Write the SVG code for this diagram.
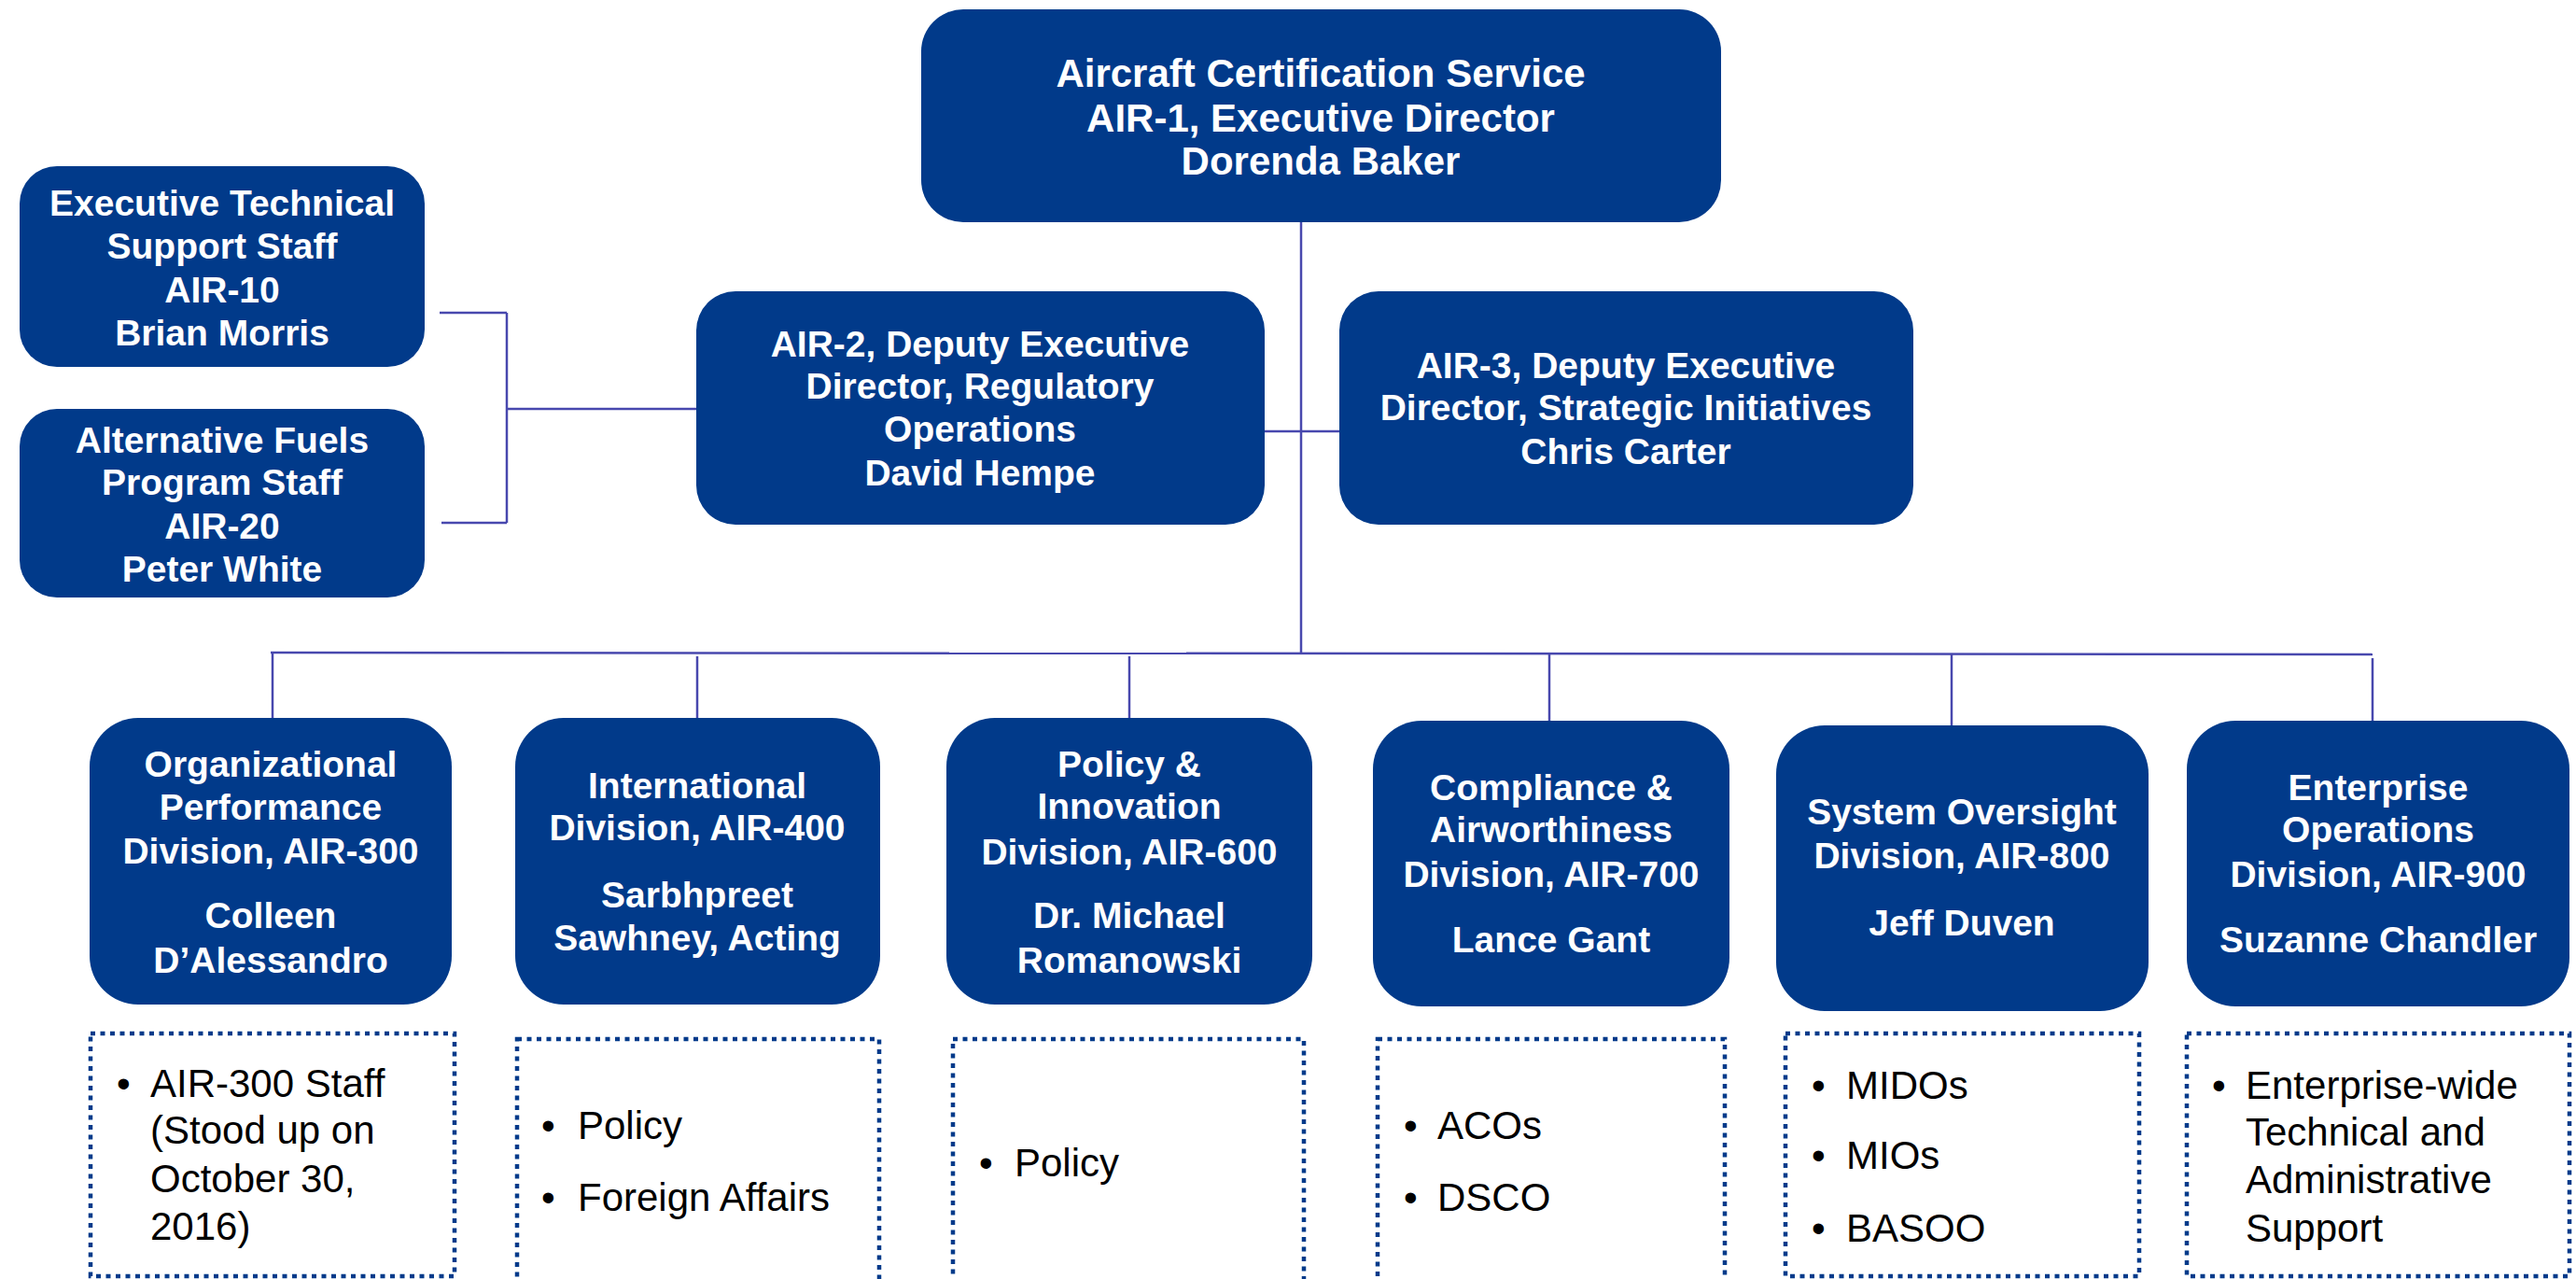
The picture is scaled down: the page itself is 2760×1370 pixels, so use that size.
<svg xmlns="http://www.w3.org/2000/svg" width="2760" height="1370" viewBox="0 0 2760 1370">
<style>
.box{fill:#013A8A}
.t{font-family:"Liberation Sans",Arial,sans-serif;font-weight:bold;fill:#fff;text-anchor:middle;font-size:39px}
.tt{font-size:42px}
.dot{fill:none;stroke:#013A8A;stroke-width:4.5;stroke-dasharray:5 5.5}
.b{font-family:"Liberation Sans",Arial,sans-serif;fill:#000;font-size:42px}
.conn line{stroke:#4848AE;stroke-width:2.5}
</style>
<rect width="2760" height="1370" fill="#fff"/>
<g class="conn" id="connectors">
<line x1="1394" y1="238" x2="1394" y2="700"/>
<line x1="1355" y1="462" x2="1436" y2="462"/>
<line x1="471" y1="335" x2="543" y2="335"/>
<line x1="543" y1="335" x2="543" y2="560"/>
<line x1="473" y1="560" x2="543" y2="560"/>
<line x1="543" y1="438" x2="747" y2="438"/>
<line x1="290" y1="699" x2="2542" y2="701"/>
<line x1="292" y1="699" x2="292" y2="769"/>
<line x1="747" y1="703" x2="747" y2="769"/>
<line x1="1210" y1="703" x2="1210" y2="769"/>
<line x1="1660" y1="699" x2="1660" y2="772"/>
<line x1="2091" y1="701" x2="2091" y2="777"/>
<line x1="2542" y1="705" x2="2542" y2="772"/>
</g>
<g id="air1">
<rect class="box" x="987" y="10" width="857" height="228" rx="45"/>
<text class="t tt" x="1415" y="93">Aircraft Certification Service</text>
<text class="t tt" x="1415" y="141">AIR-1, Executive Director</text>
<text class="t tt" x="1415" y="187">Dorenda Baker</text>
</g>
<g id="air10">
<rect class="box" x="21" y="178" width="434" height="215" rx="40"/>
<text class="t" x="238" y="231">Executive Technical</text>
<text class="t" x="238" y="277">Support Staff</text>
<text class="t" x="238" y="324">AIR-10</text>
<text class="t" x="238" y="370">Brian Morris</text>
</g>
<g id="air20">
<rect class="box" x="21" y="438" width="434" height="202" rx="40"/>
<text class="t" x="238" y="485">Alternative Fuels</text>
<text class="t" x="238" y="530">Program Staff</text>
<text class="t" x="238" y="577">AIR-20</text>
<text class="t" x="238" y="623">Peter White</text>
</g>
<g id="air2">
<rect class="box" x="746" y="312" width="609" height="250" rx="42"/>
<text class="t" x="1050" y="382">AIR-2, Deputy Executive</text>
<text class="t" x="1050" y="427">Director, Regulatory</text>
<text class="t" x="1050" y="473">Operations</text>
<text class="t" x="1050" y="520">David Hempe</text>
</g>
<g id="air3">
<rect class="box" x="1435" y="312" width="615" height="250" rx="42"/>
<text class="t" x="1742" y="405">AIR-3, Deputy Executive</text>
<text class="t" x="1742" y="450">Director, Strategic Initiatives</text>
<text class="t" x="1742" y="497">Chris Carter</text>
</g>
<g id="air300">
<rect class="box" x="96" y="769" width="388" height="307" rx="52"/>
<text class="t" x="290" y="832">Organizational</text>
<text class="t" x="290" y="878">Performance</text>
<text class="t" x="290" y="925">Division, AIR-300</text>
<text class="t" x="290" y="994">Colleen</text>
<text class="t" x="290" y="1042">D’Alessandro</text>
</g>
<g id="air400">
<rect class="box" x="552" y="769" width="391" height="307" rx="52"/>
<text class="t" x="747" y="855">International</text>
<text class="t" x="747" y="900">Division, AIR-400</text>
<text class="t" x="747" y="972">Sarbhpreet</text>
<text class="t" x="747" y="1018">Sawhney, Acting</text>
</g>
<g id="air600">
<rect class="box" x="1014" y="769" width="392" height="307" rx="52"/>
<text class="t" x="1210" y="832">Policy &amp;</text>
<text class="t" x="1210" y="877">Innovation</text>
<text class="t" x="1210" y="926">Division, AIR-600</text>
<text class="t" x="1210" y="994">Dr. Michael</text>
<text class="t" x="1210" y="1042">Romanowski</text>
</g>
<g id="air700">
<rect class="box" x="1471" y="772" width="382" height="306" rx="52"/>
<text class="t" x="1662" y="857">Compliance &amp;</text>
<text class="t" x="1662" y="902">Airworthiness</text>
<text class="t" x="1662" y="950">Division, AIR-700</text>
<text class="t" x="1662" y="1020">Lance Gant</text>
</g>
<g id="air800">
<rect class="box" x="1903" y="777" width="399" height="306" rx="52"/>
<text class="t" x="2102" y="883">System Oversight</text>
<text class="t" x="2102" y="930">Division, AIR-800</text>
<text class="t" x="2102" y="1002">Jeff Duven</text>
</g>
<g id="air900">
<rect class="box" x="2343" y="772" width="410" height="306" rx="52"/>
<text class="t" x="2548" y="857">Enterprise</text>
<text class="t" x="2548" y="902">Operations</text>
<text class="t" x="2548" y="950">Division, AIR-900</text>
<text class="t" x="2548" y="1020">Suzanne Chandler</text>
</g>
<g id="list300">
<rect class="dot" x="97" y="1107" width="390" height="260"/>
<text class="b" x="125" y="1175">•</text>
<text class="b" x="161" y="1175">AIR-300 Staff</text>
<text class="b" x="161" y="1225">(Stood up on</text>
<text class="b" x="161" y="1277">October 30,</text>
<text class="b" x="161" y="1328">2016)</text>
</g>
<g id="list400">
<rect class="dot" x="554" y="1113" width="388" height="280"/>
<text class="b" x="580" y="1220">•</text>
<text class="b" x="619" y="1220">Policy</text>
<text class="b" x="580" y="1297">•</text>
<text class="b" x="619" y="1297">Foreign Affairs</text>
</g>
<g id="list600">
<rect class="dot" x="1021" y="1113" width="376" height="280"/>
<text class="b" x="1049" y="1260">•</text>
<text class="b" x="1087" y="1260">Policy</text>
</g>
<g id="list700">
<rect class="dot" x="1476" y="1113" width="372" height="280"/>
<text class="b" x="1504" y="1220">•</text>
<text class="b" x="1540" y="1220">ACOs</text>
<text class="b" x="1504" y="1297">•</text>
<text class="b" x="1540" y="1297">DSCO</text>
</g>
<g id="list800">
<rect class="dot" x="1913" y="1107" width="379" height="260"/>
<text class="b" x="1941" y="1177">•</text>
<text class="b" x="1978" y="1177">MIDOs</text>
<text class="b" x="1941" y="1252">•</text>
<text class="b" x="1978" y="1252">MIOs</text>
<text class="b" x="1941" y="1330">•</text>
<text class="b" x="1978" y="1330">BASOO</text>
</g>
<g id="list900">
<rect class="dot" x="2343" y="1107" width="410" height="260"/>
<text class="b" x="2370" y="1177">•</text>
<text class="b" x="2406" y="1177">Enterprise-wide</text>
<text class="b" x="2406" y="1227">Technical and</text>
<text class="b" x="2406" y="1278">Administrative</text>
<text class="b" x="2406" y="1330">Support</text>
</g>
</svg>
